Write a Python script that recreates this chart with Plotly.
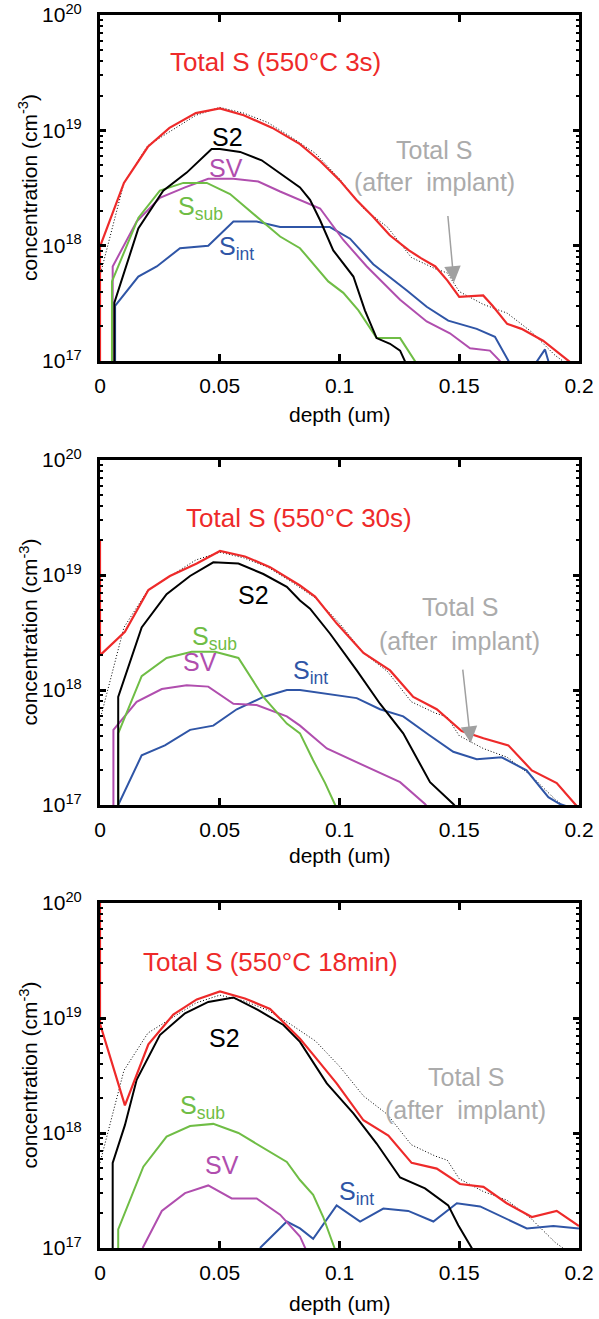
import plotly.graph_objects as go

# ---------------- data (depth in um, concentration in cm^-3) ----------------
# Total S after implant (dotted, same in all panels)
impl_x = [0, 0.01, 0.02, 0.03, 0.04, 0.05, 0.06, 0.07, 0.08, 0.09, 0.1, 0.11, 0.12,
          0.13, 0.14, 0.145, 0.15, 0.16, 0.17, 0.18, 0.19, 0.2]
impl_y = [5.5e17, 3.5e18, 7.4e18, 1.0e19, 1.35e19, 1.58e19, 1.41e19, 1.17e19, 8.7e18,
          6.3e18, 3.8e18, 2.1e18, 1.45e18, 7.9e17, 6.3e17, 5.8e17, 4.0e17, 3.1e17,
          2.6e17, 1.8e17, 1.12e17, 7.9e16]

# ---- panel 1: 550C 3s ----
p1_tot_x = [0, 0, 0.01, 0.02, 0.029, 0.04, 0.05, 0.06, 0.072, 0.0835, 0.092, 0.1, 0.107,
            0.114, 0.121, 0.129, 0.134, 0.14, 0.145, 0.15, 0.16, 0.164, 0.17, 0.176,
            0.185, 0.195, 0.2]
p1_tot_y = [3.2e16, 9.8e17, 3.5e18, 7.2e18, 1.05e19, 1.41e19, 1.55e19, 1.35e19, 1.05e19,
            7.6e18, 5.4e18, 3.7e18, 2.5e18, 1.78e18, 1.23e18, 9.1e17, 7.8e17, 6.6e17,
            5.0e17, 3.6e17, 3.7e17, 3.0e17, 2.1e17, 1.9e17, 1.5e17, 1.02e17, 8.5e16]
p1_s2_x = [0.006, 0.006, 0.016, 0.0264, 0.0362, 0.0466, 0.05, 0.0585, 0.0675, 0.0766,
           0.0835, 0.0877, 0.0919, 0.0974, 0.1058, 0.1106, 0.1155, 0.1211, 0.1253,
           0.1273, 0.13]
p1_s2_y = [3e16, 3.2e17, 1.41e18, 3.0e18, 4.3e18, 6.9e18, 6.9e18, 6.5e18, 5.5e18, 4.0e18,
           3.2e18, 2.5e18, 1.66e18, 9.1e17, 5.4e17, 2.75e17, 1.58e17, 1.41e17, 1.23e17,
           1.0e17, 6.3e16]
p1_sub_x = [0.005, 0.005, 0.016, 0.025, 0.0348, 0.0446, 0.0543, 0.0654, 0.0752, 0.0835,
            0.0891, 0.0953, 0.1016, 0.1079, 0.1155, 0.1253, 0.1315, 0.134]
p1_sub_y = [3e16, 4.9e17, 1.74e18, 3.0e18, 3.5e18, 3.5e18, 2.8e18, 1.78e18, 1.2e18,
            9.5e17, 6.9e17, 4.9e17, 3.9e17, 2.75e17, 1.58e17, 1.58e17, 1.0e17, 7.9e16]
p1_sv_x = [0.0053, 0.0053, 0.0153, 0.025, 0.0355, 0.0452, 0.0557, 0.0661, 0.0752, 0.0835,
           0.0919, 0.1016, 0.1114, 0.1253, 0.1364, 0.1461, 0.1545, 0.1628, 0.167, 0.17]
p1_sv_y = [3e16, 6.6e17, 1.62e18, 2.6e18, 3.2e18, 3.8e18, 3.8e18, 3.6e18, 2.95e18,
           2.5e18, 2.1e18, 1.12e18, 6.6e17, 3.4e17, 2.2e17, 1.74e17, 1.29e17, 1.23e17,
           1.0e17, 7.9e16]
p1_int_x = [0.0063, 0.0063, 0.016, 0.0237, 0.0334, 0.0452, 0.0557, 0.0654, 0.0752, 0.0835,
            0.096, 0.1044, 0.1141, 0.128, 0.1364, 0.1454, 0.1573, 0.1649, 0.176, 0.1858,
            0.19]
p1_int_y = [3e16, 3.0e17, 5.4e17, 6.6e17, 9.5e17, 1.0e18, 1.62e18, 1.62e18, 1.45e18,
            1.45e18, 1.45e18, 1.15e18, 6.9e17, 4.1e17, 2.95e17, 2.24e17, 1.9e17, 1.62e17,
            6.3e16, 1.26e17, 6.3e16]

# ---- panel 2: 550C 30s ----
p2_tot_x = [0, 0, 0.0104, 0.0202, 0.0292, 0.0404, 0.0501, 0.0605, 0.071, 0.0835, 0.0898,
            0.0988, 0.11, 0.1211, 0.1308, 0.1406, 0.151, 0.1601, 0.1705, 0.1803, 0.1907,
            0.1983, 0.2]
p2_tot_y = [2.0e19, 2.0e18, 3.2e18, 7.4e18, 9.8e18, 1.26e19, 1.62e19, 1.45e19, 1.17e19,
            8.1e18, 6.5e18, 3.8e18, 2.1e18, 1.48e18, 8.7e17, 6.8e17, 4.4e17, 3.8e17,
            3.3e17, 2.0e17, 1.55e17, 1.02e17, 9.3e16]
p2_s2_x = [0.0076, 0.0076, 0.0174, 0.0278, 0.0376, 0.0473, 0.0578, 0.0682, 0.078, 0.0835,
           0.0877, 0.096, 0.1072, 0.1169, 0.1266, 0.1378, 0.1475, 0.15]
p2_s2_y = [3e16, 8.7e17, 3.5e18, 6.8e18, 9.8e18, 1.29e19, 1.26e19, 1.02e19, 7.9e18,
           6.0e18, 5.1e18, 3.1e18, 1.48e18, 7.6e17, 4.2e17, 1.58e17, 1.02e17, 8.9e16]
p2_sub_x = [0.0076, 0.0076, 0.0174, 0.0278, 0.0383, 0.048, 0.0578, 0.0682, 0.078, 0.0835,
            0.089, 0.094, 0.098, 0.1]
p2_sub_y = [3e16, 4.2e17, 1.32e18, 1.9e18, 2.15e18, 2.15e18, 1.9e18, 8.7e17, 5.1e17,
            4.2e17, 2.45e17, 1.55e17, 1.02e17, 8.3e16]
p2_sv_x = [0.0056, 0.0056, 0.0153, 0.0258, 0.0362, 0.0452, 0.0557, 0.0654, 0.078, 0.0835,
           0.0947, 0.1065, 0.1155, 0.1253, 0.1357, 0.138]
p2_sv_y = [3e16, 4.5e17, 7.9e17, 1.02e18, 1.1e18, 1.07e18, 7.6e17, 7.4e17, 5.9e17,
           4.9e17, 3.1e17, 2.4e17, 1.95e17, 1.58e17, 1.02e17, 8.9e16]
p2_int_x = [0.0076, 0.0174, 0.0271, 0.0376, 0.0473, 0.0571, 0.0682, 0.078, 0.0835, 0.0947,
            0.1072, 0.1169, 0.1266, 0.1371, 0.1475, 0.1573, 0.1677, 0.1781, 0.1872,
            0.192, 0.2]
p2_int_y = [1.0e17, 2.7e17, 3.3e17, 4.5e17, 4.9e17, 6.8e17, 8.7e17, 1.0e18, 1.0e18,
            9.3e17, 8.5e17, 6.8e17, 5.9e17, 4.1e17, 2.9e17, 2.5e17, 2.6e17, 2.0e17,
            1.17e17, 1.02e17, 9.0e16]

# ---- panel 3: 550C 18min ----
p3_tot_x = [0, 0, 0.0104, 0.0202, 0.0306, 0.0404, 0.0501, 0.0605, 0.071, 0.0835, 0.089,
            0.0988, 0.11, 0.1204, 0.1301, 0.1406, 0.1503, 0.1601, 0.1698, 0.1803, 0.1907,
            0.199, 0.2]
p3_tot_y = [1.0e20, 8.9e18, 1.74e18, 5.9e18, 1.07e19, 1.45e19, 1.7e19, 1.48e19, 1.2e19,
            6.6e18, 4.8e18, 2.7e18, 1.29e18, 9.5e17, 5.5e17, 4.9e17, 3.6e17, 3.4e17,
            2.45e17, 1.86e17, 2.1e17, 1.58e17, 1.55e17]
p3_s2_x = [0.0053, 0.0053, 0.0104, 0.0153, 0.025, 0.0355, 0.0452, 0.0557, 0.0661, 0.0766,
           0.0835, 0.0947, 0.1058, 0.1155, 0.1253, 0.1357, 0.1454, 0.1496, 0.1552, 0.16]
p3_s2_y = [3e16, 5.5e17, 1.17e18, 2.9e18, 7.1e18, 1.1e19, 1.38e19, 1.51e19, 1.17e19,
           8.7e18, 6.2e18, 2.7e18, 1.48e18, 8.1e17, 4.1e17, 3.3e17, 2.35e17, 1.58e17,
           1.0e17, 6.3e16]
p3_sub_x = [0.0076, 0.0076, 0.0181, 0.0278, 0.0376, 0.0473, 0.0578, 0.0682, 0.078, 0.0835,
            0.089, 0.0932, 0.098, 0.1]
p3_sub_y = [3e16, 1.45e17, 5.1e17, 9.3e17, 1.15e18, 1.2e18, 1.0e18, 7.4e17, 5.6e17,
            3.9e17, 2.9e17, 1.86e17, 1.0e17, 7.6e16]
p3_sv_x = [0.0178, 0.0258, 0.0355, 0.0452, 0.055, 0.0654, 0.0752, 0.0835, 0.09]
p3_sv_y = [1.0e17, 2.1e17, 3.0e17, 3.5e17, 2.7e17, 2.7e17, 1.95e17, 1.26e17, 6.3e16]
p3_int_x = [0.0668, 0.078, 0.0835, 0.089, 0.0988, 0.1086, 0.1183, 0.1287, 0.1392, 0.149,
            0.1587, 0.1684, 0.1782, 0.1893, 0.2]
p3_int_y = [1.0e17, 1.7e17, 1.48e17, 1.2e17, 2.35e17, 1.7e17, 2.2e17, 2.1e17, 1.7e17,
            2.45e17, 2.3e17, 1.86e17, 1.48e17, 1.55e17, 1.48e17]

x_tickvals = [0, 0.05, 0.1, 0.15, 0.2]
x_ticktext = ["0", "0.05", "0.1", "0.15", "0.2"]
y_tickvals = [1e17, 1e18, 1e19, 1e20]
y_ticktext = ["10<sup>17</sup>", "10<sup>18</sup>", "10<sup>19</sup>", "10<sup>20</sup>"]
y_minor = [m * 10.0 ** e for e in (17, 18, 19) for m in range(2, 10)]

titles = ["Total S (550°C 3s)", "Total S (550°C 30s)", "Total S (550°C 18min)"]

# ---------------- style ----------------
W, H = 599, 1319
FONT = "Liberation Sans, Arial, Helvetica, sans-serif"
RED, BLACK, PURPLE, GREEN, BLUE, GRAY = "#ee2a2a", "#000000", "#b04eae", "#6fbd45", "#2f55a6", "#ababab"
LBL = 25   # in-plot label font size
TTLBL = 26  # red title label size
TCK = 21   # tick label font size
TTL = 21   # axis title font size

# pixel geometry of the three plot areas (top, bottom)
panels_px = [(15, 361), (460, 805), (903, 1248)]
xtitle_px = [414, 855, 1303]
x_left, x_right = 100, 579

fig = go.Figure()

panel_data = [
    (p1_tot_x, p1_tot_y, p1_s2_x, p1_s2_y, p1_sub_x, p1_sub_y, p1_sv_x, p1_sv_y, p1_int_x, p1_int_y),
    (p2_tot_x, p2_tot_y, p2_s2_x, p2_s2_y, p2_sub_x, p2_sub_y, p2_sv_x, p2_sv_y, p2_int_x, p2_int_y),
    (p3_tot_x, p3_tot_y, p3_s2_x, p3_s2_y, p3_sub_x, p3_sub_y, p3_sv_x, p3_sv_y, p3_int_x, p3_int_y),
]

for i, d in enumerate(panel_data):
    sfx = "" if i == 0 else str(i + 1)
    xa, ya = "x" + sfx, "y" + sfx
    tx, ty, s2x, s2y, sbx, sby, svx, svy, inx, iny = d
    fig.add_trace(go.Scatter(x=impl_x, y=impl_y, mode="lines", xaxis=xa, yaxis=ya,
                             line=dict(color=BLACK, width=1, dash="1px,2px"), showlegend=False))
    fig.add_trace(go.Scatter(x=inx, y=iny, mode="lines", xaxis=xa, yaxis=ya,
                             line=dict(color=BLUE, width=2), showlegend=False))
    fig.add_trace(go.Scatter(x=svx, y=svy, mode="lines", xaxis=xa, yaxis=ya,
                             line=dict(color=PURPLE, width=2), showlegend=False))
    fig.add_trace(go.Scatter(x=sbx, y=sby, mode="lines", xaxis=xa, yaxis=ya,
                             line=dict(color=GREEN, width=2), showlegend=False))
    fig.add_trace(go.Scatter(x=s2x, y=s2y, mode="lines", xaxis=xa, yaxis=ya,
                             line=dict(color=BLACK, width=2), showlegend=False))
    fig.add_trace(go.Scatter(x=tx, y=ty, mode="lines", xaxis=xa, yaxis=ya,
                             line=dict(color=RED, width=2.2), showlegend=False))

layout = dict(width=W, height=H, margin=dict(l=0, r=0, t=0, b=0, autoexpand=False),
              paper_bgcolor="white", plot_bgcolor="white",
              font=dict(family=FONT, color="black", size=TCK), showlegend=False)

annotations = []
for i, (top, bot) in enumerate(panels_px):
    sfx = "" if i == 0 else str(i + 1)
    y0, y1 = 1 - bot / H, 1 - top / H
    layout["xaxis" + sfx] = dict(
        domain=[x_left / W, x_right / W], anchor="y" + sfx, range=[0, 0.2],
        tickvals=x_tickvals, ticktext=x_ticktext, ticks="inside", ticklen=7, tickwidth=3,
        tickcolor="black", showline=True, linewidth=3, linecolor="black", mirror="allticks",
        showgrid=False, zeroline=False, automargin=False, ticklabelstandoff=4,
        ticklabeloverflow="allow", tickfont=dict(size=TCK, family=FONT))
    layout["yaxis" + sfx] = dict(
        domain=[y0, y1], anchor="x" + sfx, type="log", range=[17, 20],
        tickvals=y_tickvals, ticktext=y_ticktext, ticks="inside", ticklen=6, tickwidth=3,
        tickcolor="black", showline=True, linewidth=3, linecolor="black", mirror="allticks",
        showgrid=False, zeroline=False, automargin=False, ticklabelstandoff=11,
        ticklabeloverflow="allow", tickfont=dict(size=TCK, family=FONT),
        minor=dict(tickvals=y_minor, ticks="inside", ticklen=3, tickwidth=2, tickcolor="black",
                   showgrid=False))
    # axis titles
    annotations.append(dict(xref="paper", yref="paper", x=28 / W, y=1 - (top + bot) / 2 / H,
                            text="concentration (cm<sup>-3</sup>)", textangle=-90,
                            showarrow=False, font=dict(size=TTL, family=FONT),
                            xanchor="center", yanchor="middle"))
    annotations.append(dict(xref="paper", yref="paper", x=(x_left + x_right) / 2 / W,
                            y=1 - xtitle_px[i] / H, text="depth (um)", showarrow=False,
                            font=dict(size=TTL, family=FONT), xanchor="center", yanchor="middle"))

# in-plot labels: (panel, text, x, log10 y, color, size)
labels = [
    (0, titles[0], 0.0731, 19.59, RED, TTLBL),
    (0, "S2", 0.0534, 18.94, BLACK, LBL),
    (0, "SV", 0.0526, 18.67, PURPLE, LBL),
    (0, "S<sub>sub</sub>", 0.0418, 18.33, GREEN, LBL),
    (0, "S<sub>int</sub>", 0.0572, 17.98, BLUE, LBL),
    (0, "Total S", 0.1395, 18.83, GRAY, LBL),
    (0, "(after  implant)", 0.1395, 18.55, GRAY, LBL),
    (1, titles[1], 0.0831, 19.50, RED, TTLBL),
    (1, "S2", 0.0639, 18.83, BLACK, LBL),
    (1, "S<sub>sub</sub>", 0.0476, 18.45, GREEN, LBL),
    (1, "SV", 0.0418, 18.24, PURPLE, LBL),
    (1, "S<sub>int</sub>", 0.0877, 18.16, BLUE, LBL),
    (1, "Total S", 0.1503, 18.72, GRAY, LBL),
    (1, "(after  implant)", 0.1503, 18.43, GRAY, LBL),
    (2, titles[2], 0.071, 19.49, RED, TTLBL),
    (2, "S2", 0.0518, 18.83, BLACK, LBL),
    (2, "S<sub>sub</sub>", 0.043, 18.23, GREEN, LBL),
    (2, "SV", 0.0509, 17.72, PURPLE, LBL),
    (2, "S<sub>int</sub>", 0.1073, 17.48, BLUE, LBL),
    (2, "Total S", 0.1528, 18.49, GRAY, LBL),
    (2, "(after  implant)", 0.1528, 18.20, GRAY, LBL),
]
for p, txt, x, ly, col, sz in labels:
    sfx = "" if p == 0 else str(p + 1)
    annotations.append(dict(xref="x" + sfx, yref="y" + sfx, x=x, y=ly, text=txt,
                            showarrow=False, font=dict(size=sz, color=col, family=FONT),
                            xanchor="center", yanchor="middle"))

# arrows pointing at the after-implant curve: (panel, tip x, tip log y, tail x, tail log y)
arrows = [(0, 0.1478, 17.68, 0.1452, 18.27), (1, 0.1548, 17.54, 0.1514, 18.19)]
for p, x, ly, ax, ay in arrows:
    sfx = "" if p == 0 else str(p + 1)
    annotations.append(dict(xref="x" + sfx, yref="y" + sfx, axref="x" + sfx, ayref="y" + sfx,
                            x=x, y=ly, ax=ax, ay=ay, text="", showarrow=True,
                            arrowhead=2, arrowsize=2.2, arrowwidth=1.5, arrowcolor="#a0a0a0"))

layout["annotations"] = annotations
fig.update_layout(**layout)
# the page's default 8px body margin would shift the figure; remove it
fig.write_html("out.html", config={"displayModeBar": False},
               post_script="document.body.style.margin='0';")
